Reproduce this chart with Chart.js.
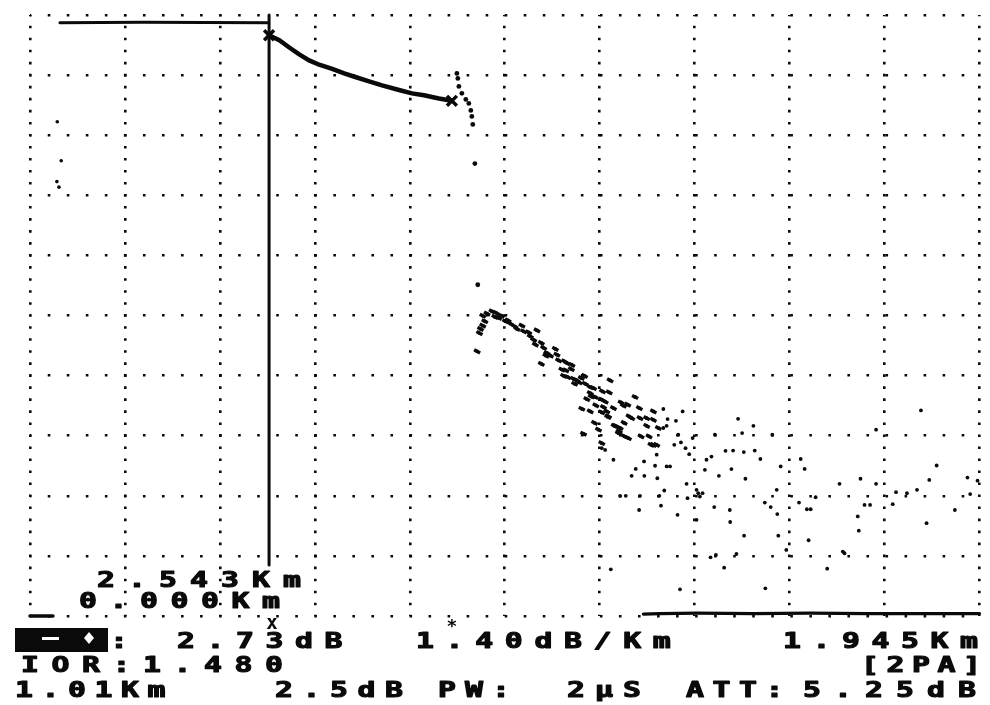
<!DOCTYPE html>
<html>
<head>
<meta charset="utf-8">
<title>OTDR trace</title>
<script src="https://cdn.jsdelivr.net/npm/chart.js@4.4.1/dist/chart.umd.min.js"></script>
<style>
  html, body { margin: 0; padding: 0; background: #fff; }
  #wrap { width: 990px; height: 705px; }
</style>
</head>
<body>
<div id="wrap"><canvas id="otdr" width="990" height="705"></canvas></div>
<script>
// --- instrument settings (1.01 km / div, 2.5 dB / div) ---
var kmPerDiv = 1.01;
var dbPerDiv = 2.5;
var gridKm = [0, 1.01, 2.02, 3.03, 4.04, 5.05, 6.06, 7.07, 8.08, 9.09, 10.10];
var gridDb = [0, 2.5, 5, 7.5, 10, 12.5, 15, 17.5, 20, 22.5, 25];

// cursor + marker readout
var cursorKm = 2.543;
var originKm = 0.000;
var markerDb = 24.16;     // level at marker A
var markerLoss = 2.73;    // dB between A and B
var markerDist = 1.945;   // km between A and B

// --- trace ---
var deadZoneKm = [0.000, 0.244];
var deadZoneDb = [0.00, 0.00];

var riseKm = [0.290, 0.332, 0.286, 0.308];
var riseDb = [20.56, 18.94, 18.07, 17.84];

var flatKm = [0.318, 1.200, 2.525];
var flatDb = [24.68, 24.70, 24.68];

var curveKm = [2.543, 2.652, 2.758, 2.864, 2.970, 3.076, 3.215, 3.342, 3.469, 3.607, 3.745, 3.925, 4.063, 4.191, 4.350, 4.488];
var curveDb = [24.16, 23.95, 23.65, 23.36, 23.11, 22.93, 22.76, 22.57, 22.41, 22.24, 22.07, 21.88, 21.74, 21.66, 21.53, 21.43];

var bumpKm = [4.541, 4.551, 4.562, 4.594, 4.636, 4.668, 4.689, 4.700, 4.710, 4.732, 4.763];
var bumpDb = [22.57, 22.36, 22.03, 21.74, 21.49, 21.32, 21.03, 20.78, 20.45, 18.82, 13.78];

// backscatter after the splice, dense part [km, dB]
var bandPts = [
  [4.756,11.01],[4.781,11.77],[4.792,11.94],[4.816,12.08],[4.838,12.26],[4.816,12.49],[4.862,12.58],
  [4.915,12.67],[4.958,12.61],[4.944,12.44],[4.986,12.40],[5.015,12.49],[5.057,12.26],[5.085,12.30],
  [5.110,12.16],[5.156,12.05],[5.180,11.94],[5.233,12.08],[5.251,11.84],[5.305,11.80],[5.322,11.63],
  [5.358,11.49],[5.393,11.88],[5.376,11.29],[5.439,11.36],[5.464,11.15],[5.499,10.94],[5.488,10.83],
  [5.535,10.83],[5.588,11.11],[5.605,10.87],[5.623,10.63],[5.686,10.59],[5.711,10.52],[5.764,10.45],
  [5.658,10.25],[5.700,10.22],[5.758,10.27],[5.676,9.99],[5.721,9.94],[5.782,9.86],[5.817,9.80],
  [5.864,9.90],[5.899,9.99],[5.793,9.66],[5.842,9.72],[5.906,9.66],[5.959,9.52],[5.994,9.48],
  [5.970,9.13],[6.012,9.11],[5.959,9.27],[6.090,9.34],[6.082,9.00],[6.118,8.92],[6.171,9.80],
  [5.923,9.02],[6.019,8.76],[6.100,8.69],[5.870,8.62],[5.959,8.51],[6.082,8.47],[6.146,8.28],
  [6.206,8.65],[6.288,8.88],[6.312,8.75],[6.436,9.11],[6.373,8.30],[6.482,8.65],[6.489,8.23],
  [6.005,8.03],[6.047,7.75],[6.231,7.91],[6.267,7.68],[6.323,7.47],[6.500,7.47],[6.560,7.91],
  [6.585,7.47],[6.631,8.16],[5.888,7.58],[6.082,7.19],[6.606,7.12],[5.439,10.49],[6.161,9.30],
  [6.358,8.79],[6.135,8.51],[6.153,8.30],[6.214,7.91],[6.277,7.82],[6.259,7.61],[6.320,8.03],
  [6.365,7.40],[6.400,8.23],[6.560,8.23],[6.631,8.51],[6.631,7.12],[6.666,7.12],[6.684,7.82]
];

// noise towards the end of the range [km, dB]
var noisePts = [
  [6.737,8.61],[6.737,7.82],[6.782,8.19],[6.772,7.91],[6.871,8.12],[6.942,8.51],[6.896,7.54],
  [6.853,7.12],[6.924,7.22],[6.973,6.98],[7.048,7.40],[7.012,6.73],[6.082,6.98],[6.118,6.91],
  [6.206,6.50],[6.532,6.43],[6.666,6.71],[6.443,6.12],[6.400,5.83],[6.535,5.83],[6.649,6.25],
  [6.772,6.22],[6.808,6.22],[6.673,5.73],[6.984,5.50],[6.747,5.22],[6.277,5.00],[6.337,5.00],
  [6.489,5.00],[6.694,5.00],[6.994,4.90],[6.479,4.41],[6.712,4.59],[6.888,4.21],[7.090,5.25],
  [7.108,5.11],[7.154,5.11],[7.126,4.97],[7.090,4.00],[7.179,6.08],[7.196,6.50],[7.249,6.63],
  [7.285,7.54],[7.398,6.87],[7.479,6.88],[7.532,8.20],[7.575,7.61],[7.593,6.82],[7.695,7.91],
  [7.709,6.88],[7.769,6.53],[7.896,7.54],[7.985,6.22],[7.461,6.11],[7.328,5.83],[7.610,5.71],
  [7.943,5.25],[7.816,4.72],[7.879,4.53],[7.949,4.24],[7.278,4.53],[7.444,4.41],[7.448,3.91],
  [7.596,3.34],[7.960,3.34],[8.045,2.75],[7.514,2.58],[7.239,2.44],[7.296,2.54],[7.384,2.01],
  [7.822,1.15],[6.914,1.11],[6.178,1.94],[9.477,8.55],[9.000,7.75],[8.198,6.53],[8.240,6.12],
  [9.644,6.26],[8.611,5.50],[8.834,5.71],[9.000,5.50],[9.566,5.66],[9.972,5.76],[10.079,5.63],
  [9.212,5.15],[9.328,5.11],[9.435,5.25],[10.001,5.07],[8.357,4.94],[8.180,4.72],[8.264,4.44],
  [8.304,4.44],[8.877,4.62],[8.936,4.62],[9.177,4.65],[9.838,4.41],[8.805,4.14],[9.537,3.86],
  [8.816,3.55],[8.282,3.15],[8.646,2.68],[8.664,2.61],[8.480,1.97]
];

var floorKm = [6.525, 6.700, 7.100, 7.700, 8.300, 8.900, 9.500, 10.100];
var floorDb = [0.08, 0.10, 0.12, 0.10, 0.12, 0.10, 0.10, 0.10];

function xy(kms, dbs) {
  return kms.map(function (k, i) { return { x: k, y: dbs[i] }; });
}
function pairs(list) {
  return list.map(function (p) { return { x: p[0], y: p[1] }; });
}

var markerA = { x: cursorKm, y: markerDb };
var markerB = { x: cursorKm + markerDist, y: markerDb - markerLoss };

var INK = '#0a0a0a';

function lineSet(data, width) {
  return {
    data: data, showLine: true, borderColor: INK, borderWidth: width,
    pointRadius: 0, tension: 0, clip: false, borderCapStyle: 'round'
  };
}
function dotSet(data, r) {
  return {
    data: data, showLine: false, pointRadius: r, pointBackgroundColor: INK,
    pointBorderWidth: 0, clip: false
  };
}

// bottom readout panel
var fontSpec = 'bold 21px "DejaVu Sans Mono"';
var readout = [
  { t: cursorKm.toFixed(3) + 'Km', x: 106, y: 587, p: 31 },
  { t: originKm.toFixed(3) + 'Km', x: 88, y: 608, p: 30.5 },
  { t: ':', x: 119, y: 648, p: 0 },
  { t: markerLoss.toFixed(2) + 'dB', x: 186, y: 648, p: 29.5 },
  { t: (markerLoss / markerDist).toFixed(2) + 'dB/Km', x: 425, y: 648, p: 29.6 },
  { t: markerDist.toFixed(3) + 'Km', x: 792, y: 648, p: 29.5 },
  { t: 'IOR:1.480', x: 30, y: 672, p: 30.5 },
  { t: '[2PA]', x: 870, y: 672, p: 25.5 },
  { t: kmPerDiv.toFixed(2) + 'Km', x: 24, y: 697, p: 26.5 },
  { t: dbPerDiv.toFixed(1) + 'dB', x: 284, y: 697, p: 27.5 },
  { t: 'PW:', x: 447, y: 697, p: 27 },
  { t: '2µS', x: 576, y: 697, p: 28 },
  { t: 'ATT:', x: 695, y: 697, p: 26.5 },
  { t: '5.25dB', x: 812, y: 697, p: 31 }
];

function drawSpaced(ctx, str, x, y, pitch) {
  for (var i = 0; i < str.length; i++) {
    ctx.save();
    ctx.translate(x + i * pitch, y);
    ctx.scale(1.42, 1);
    ctx.strokeText(str[i], 0, 0);
    ctx.fillText(str[i], 0, 0);
    ctx.restore();
  }
}

var panelText = {
  id: 'panelText',
  afterDraw: function (chart) {
    var ctx = chart.ctx;
    var xs = chart.scales.x;
    ctx.save();
    ctx.fillStyle = INK;
    ctx.strokeStyle = INK;
    ctx.lineWidth = 1.1;
    ctx.lineJoin = 'round';
    ctx.font = fontSpec;
    ctx.textAlign = 'center';
    ctx.textBaseline = 'alphabetic';
    readout.forEach(function (r) { drawSpaced(ctx, r.t, r.x, r.y, r.p); });

    // marker flags under the axis
    ctx.font = 'bold 19px "DejaVu Sans Mono"';
    ctx.fillText('x', xs.getPixelForValue(markerA.x) + 3, 629);
    ctx.font = 'bold 18px "DejaVu Sans Mono"';
    ctx.fillText('*', xs.getPixelForValue(markerB.x), 632);

    // inverted marker-mode box
    ctx.fillRect(15, 628, 93, 24);
    ctx.fillStyle = '#fff';
    ctx.fillRect(42, 637, 17, 3);
    ctx.beginPath();
    ctx.moveTo(89, 632);
    ctx.lineTo(94, 638);
    ctx.lineTo(89, 644);
    ctx.lineTo(84, 638);
    ctx.closePath();
    ctx.fill();
    ctx.restore();
  }
};

new Chart(document.getElementById('otdr'), {
  type: 'scatter',
  data: {
    datasets: [
      lineSet(xy(deadZoneKm, deadZoneDb), 3.5),
      dotSet(xy(riseKm, riseDb), 1.8),
      lineSet(xy(flatKm, flatDb), 3),
      lineSet(xy(curveKm, curveDb), 4.5),
      dotSet(xy(bumpKm, bumpDb), 2.4),
      // dense band: short strokes along the slope
      {
        data: pairs(bandPts), showLine: false, pointStyle: 'line', pointRadius: 3.4,
        pointRotation: 28, pointBorderColor: INK, pointBorderWidth: 3.4, clip: false
      },
      dotSet(pairs(bandPts), 1.9),
      dotSet(pairs(noisePts), 1.9),
      lineSet(xy(floorKm, floorDb), 3.2),
      // cursor
      lineSet([{ x: cursorKm, y: 25 }, { x: cursorKm, y: 2.12 }], 3),
      {
        data: [markerA, markerB], showLine: false, pointStyle: 'crossRot',
        pointRadius: 7, pointBorderColor: INK, pointBorderWidth: 3.5, clip: false
      }
    ]
  },
  options: {
    responsive: false,
    animation: false,
    events: [],
    layout: { padding: { left: 30, right: 8, top: 15, bottom: 89 } },
    plugins: { legend: { display: false }, tooltip: { enabled: false } },
    scales: {
      x: {
        type: 'linear', min: 0, max: gridKm[gridKm.length - 1],
        afterBuildTicks: function (s) { s.ticks = gridKm.map(function (v) { return { value: v }; }); },
        ticks: { display: false },
        grid: { color: INK, lineWidth: 2.6, drawTicks: false },
        border: { display: false, dash: [2.6, 9.42], dashOffset: 1.3 }
      },
      y: {
        type: 'linear', min: 0, max: gridDb[gridDb.length - 1],
        afterBuildTicks: function (s) { s.ticks = gridDb.map(function (v) { return { value: v }; }); },
        ticks: { display: false },
        grid: { color: INK, lineWidth: 2.6, drawTicks: false },
        border: { display: false, dash: [2.6, 16.44], dashOffset: 1.3 }
      }
    }
  },
  plugins: [panelText]
});
</script>
</body>
</html>
